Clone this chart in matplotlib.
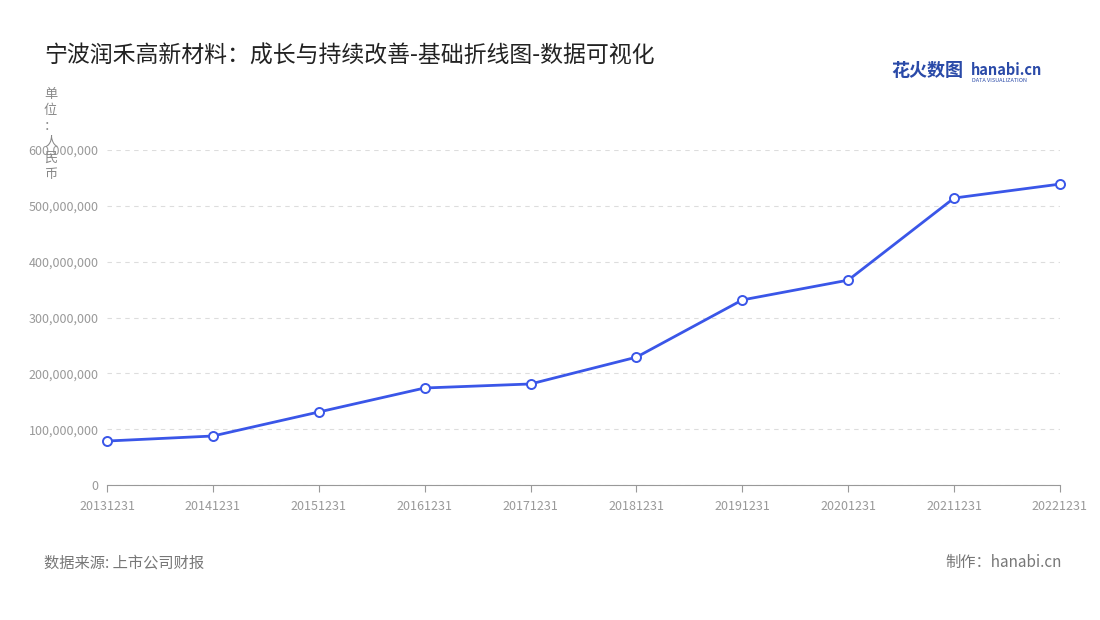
import matplotlib.pyplot as plt
from matplotlib.ticker import FuncFormatter

plt.rcParams['font.family'] = ['Noto Sans CJK SC', 'DejaVu Sans']

dates = ["20131231", "20141231", "20151231", "20161231", "20171231",
         "20181231", "20191231", "20201231", "20211231", "20221231"]
values = [78.8e6, 87.8e6, 130.8e6, 173.8e6, 181e6,
          229e6, 331.5e6, 367e6, 514e6, 539e6]

fig = plt.figure(figsize=(11, 6.2), dpi=100)
ax = fig.add_axes([0.0973, 0.2177, 0.8663, 0.5403])

ax.plot(range(len(dates)), values, color="#3a56e8", linewidth=2,
        marker="o", markersize=6.5, markerfacecolor="white",
        markeredgecolor="#3a56e8", markeredgewidth=1.4, zorder=3, clip_on=False)

ax.set_xlim(0, len(dates) - 1)
ax.set_ylim(0, 600e6)
ax.set_yticks(range(0, 600_000_001, 100_000_000))
ax.yaxis.set_major_formatter(FuncFormatter(lambda v, p: f"{int(v):,}"))
ax.set_xticks(range(len(dates)))
ax.set_xticklabels(dates)
ax.tick_params(axis="both", labelsize=9, colors="#999999", length=0, pad=6)
ax.tick_params(axis="x", length=5, color="#999999")
ax.grid(axis="y", linestyle=(0, (4, 4)), color="#dddddd", linewidth=0.8)
for s in ["top", "right", "left"]:
    ax.spines[s].set_visible(False)
ax.spines["bottom"].set_color("#999999")

fig.text(0.04, 0.91, "宁波润禾高新材料：成长与持续改善-基础折线图-数据可视化",
         fontsize=16.5, color="#222222", va="center")
fig.text(0.046, 0.858, "单\n位\n：\n人\n民\n币", fontsize=9.5, color="#888888",
         va="top", ha="center", linespacing=1.3)
fig.text(0.04, 0.085, "数据来源: 上市公司财报", fontsize=11, color="#777777")
fig.text(0.965, 0.085, "制作：hanabi.cn", fontsize=11, color="#777777", ha="right")
fig.text(0.81, 0.877, "花火数图", fontsize=13, color="#2a4aa8", fontweight="bold")
fig.text(0.883, 0.879, "hanabi.cn", fontsize=10.5, color="#2a4aa8", fontweight="bold")
fig.text(0.884, 0.867, "DATA VISUALIZATION", fontsize=4, color="#2a4aa8")

fig.savefig("out.png", dpi=100)
